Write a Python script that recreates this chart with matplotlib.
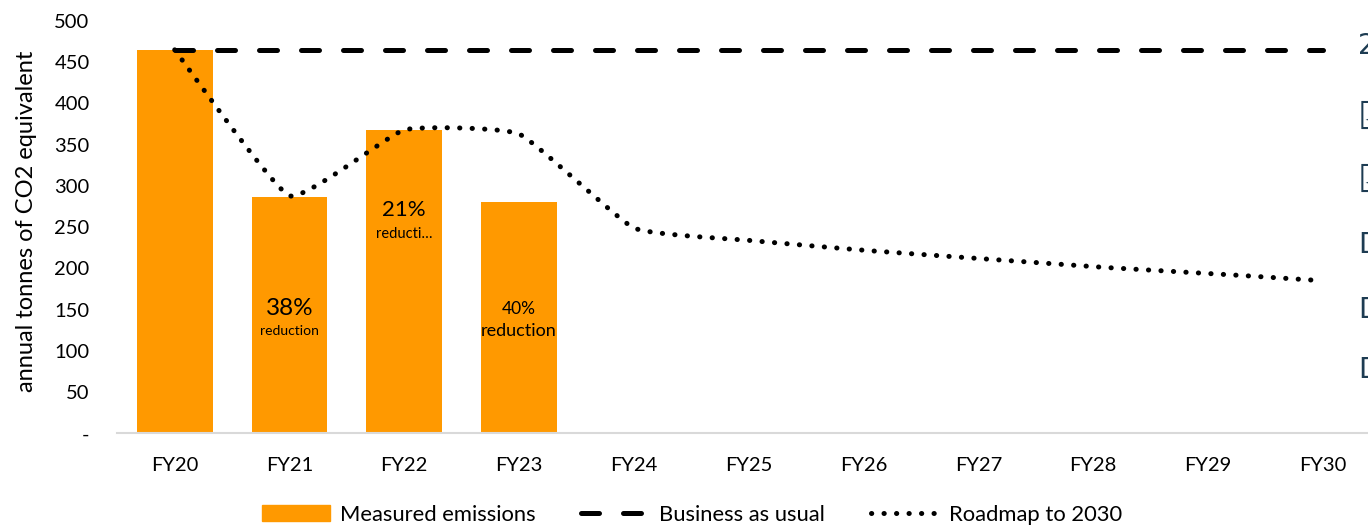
import numpy as np
import matplotlib
matplotlib.use("Agg")
import matplotlib.pyplot as plt
from matplotlib.patches import Patch
from matplotlib.lines import Line2D

plt.rcParams["font.family"] = ["Lato", "DejaVu Sans"]

years = ["FY20", "FY21", "FY22", "FY23", "FY24", "FY25", "FY26", "FY27", "FY28", "FY29", "FY30"]
measured = [465, 286, 368, 280]
business_as_usual = [465] * 11
roadmap = [465, 288, 368, 363, 249, 234, 222, 212, 202, 194, 185]

# (bar index, y, text, fontsize)
bar_labels = [
    (1, 151, "38%", 17.5), (1, 124, "reduction", 10),
    (2, 271, "21%", 16), (2, 242, "reducti…", 10.5),
    (3, 151, "40%", 12.5), (3, 124, "reduction", 13),
]
edge_chars = ["2", "☑", "☑", "D", "D", "D"]
edge_y = [46, 119, 182, 245, 310, 370]
edge_size = [20, 27, 27, 20, 20, 20]

ORANGE = "#FF9900"


def smooth(xs, ys, k=0.065, n=40):
    # bezier through the points with short control arms -> tight turns, straight runs
    pts = np.column_stack([xs, ys]).astype(float)
    ext = np.vstack([pts[0], pts, pts[-1]])
    t = np.linspace(0, 1, n, endpoint=False)[:, None]
    out = []
    for i in range(len(pts) - 1):
        p1, p2 = ext[i + 1], ext[i + 2]
        c1 = p1 + (ext[i + 2] - ext[i]) * k
        c2 = p2 - (ext[i + 3] - ext[i + 1]) * k
        out.append((1 - t) ** 3 * p1 + 3 * (1 - t) ** 2 * t * c1
                   + 3 * (1 - t) * t ** 2 * c2 + t ** 3 * p2)
    out.append(pts[-1][None, :])
    out = np.vstack(out)
    return out[:, 0], out[:, 1]


fig = plt.figure(figsize=(13.68, 5.27), dpi=100)
ax = fig.add_axes([117.3 / 1368, 1 - 433.3 / 527, 1262.8 / 1368, 412.3 / 527])

x = np.arange(len(years))
ax.bar(x[:len(measured)], measured, width=0.662, color=ORANGE, zorder=2)

ax.plot(x, business_as_usual, color="black", lw=3.6, dashes=(3.6, 4.8),
        dash_capstyle="round", zorder=3)
sx, sy = smooth(x, roadmap)
ax.plot(sx, sy, color="black", lw=3.6, linestyle=(0, (0.05, 2.45)),
        dash_capstyle="round", zorder=3)

for i, yv, txt, fs in bar_labels:
    ax.text(i, yv, txt, ha="center", va="center", fontsize=fs, color="black", zorder=4)

ax.set_xlim(-0.5, len(years) - 0.5)
ax.set_ylim(0, 500)
ax.set_xticks(x)
ax.set_xticklabels(years)
ax.set_yticks(np.arange(0, 501, 50))
ax.set_yticklabels(["-"] + [str(v) for v in range(50, 501, 50)])
ax.tick_params(length=0, labelsize=14.5, colors="black")
ax.tick_params(axis="x", pad=17)
ax.tick_params(axis="y", pad=20)
for s in ["top", "right", "left"]:
    ax.spines[s].set_visible(False)
ax.spines["bottom"].set_color("#D9D9D9")
ax.spines["bottom"].set_linewidth(1.5)
ax.set_ylabel("annual tonnes of CO2 equivalent", fontsize=17)
ax.yaxis.set_label_coords(-0.0636, 0.514)

handles = [
    Patch(color=ORANGE),
    Line2D([], [], color="black", lw=3.6, dashes=(3.6, 4.8), dash_capstyle="round"),
    Line2D([], [], color="black", lw=3.6, linestyle=(0, (0.05, 2.45)), dash_capstyle="round"),
]
fig.legend(handles, ["Measured emissions", "Business as usual", "Roadmap to 2030"],
           loc="center", bbox_to_anchor=(692 / 1368, 1 - 515 / 527), ncol=3,
           frameon=False, fontsize=15.8, handlelength=3.1, handleheight=0.75,
           handletextpad=0.45, columnspacing=2.1)

# fragments of a neighbouring panel cut off at the right edge
for ch, yy, fs in zip(edge_chars, edge_y, edge_size):
    fig.text(1358 / 1368, 1 - yy / 527, ch, ha="left", va="center",
             fontsize=fs, color="#1D3C52", family=["DejaVu Sans"])

fig.savefig("out.png", dpi=100)
